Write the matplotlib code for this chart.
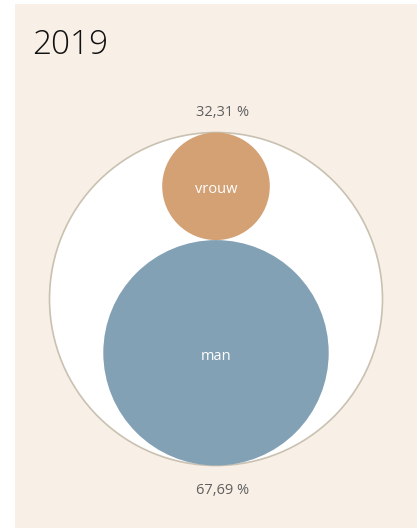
import matplotlib.pyplot as plt
from matplotlib.patches import Circle, Rectangle

# data
year = "2019"
labels = ["vrouw", "man"]
shares = [32.31, 67.69]
colors = ["#d4a174", "#82a1b5"]

W, H = 417, 529
fig = plt.figure(figsize=(W / 100, H / 100), dpi=100)
fig.patch.set_facecolor("white")
fig.patches.append(Rectangle((15 / W, 1 / H), 1 - 15 / W, 524 / H,
                             transform=fig.transFigure, facecolor="#f8efe6",
                             edgecolor="none", zorder=-5))

ax = fig.add_axes([0, 0, 1, 1])
ax.set_facecolor("none")
ax.set_zorder(1)
total = sum(shares)
# 1 data unit -> px, outer circle radius = total
s = total / 166.5
cx, cy = 216, 299
ax.set_xlim(-cx * s, (W - cx) * s)
ax.set_ylim(-(H - cy) * s, cy * s)
ax.set_aspect("equal")
ax.axis("off")

ax.add_patch(Circle((0, 0), total, facecolor="white", edgecolor="#c9c1b1", lw=1.2))

# circles stacked along the vertical diameter, radius ~ value
top = total
for lab, v, c in zip(labels, shares, colors):
    yc = top - v
    ax.add_patch(Circle((0, yc), v, facecolor=c, edgecolor="none"))
    ax.text(0, yc - 2, lab, color="white", ha="center", va="center",
            fontsize=10.5, family="Open Sans")
    top -= 2 * v

fmt = lambda v: f"{v:.2f}".replace(".", ",") + " %"
ax.text(4, total + 12, fmt(shares[0]), ha="center", va="center",
        color="#5f5f5f", fontsize=10.5, family="Open Sans")
ax.text(4, -total - 15, fmt(shares[1]), ha="center", va="center",
        color="#5f5f5f", fontsize=10.5, family="Open Sans")

fig.text(32 / W, 1 - 45 / H, year, fontsize=24, family="Open Sans",
         fontweight="light", color="#111111", va="center", ha="left")

fig.savefig("out.png", dpi=100, facecolor=fig.get_facecolor())
